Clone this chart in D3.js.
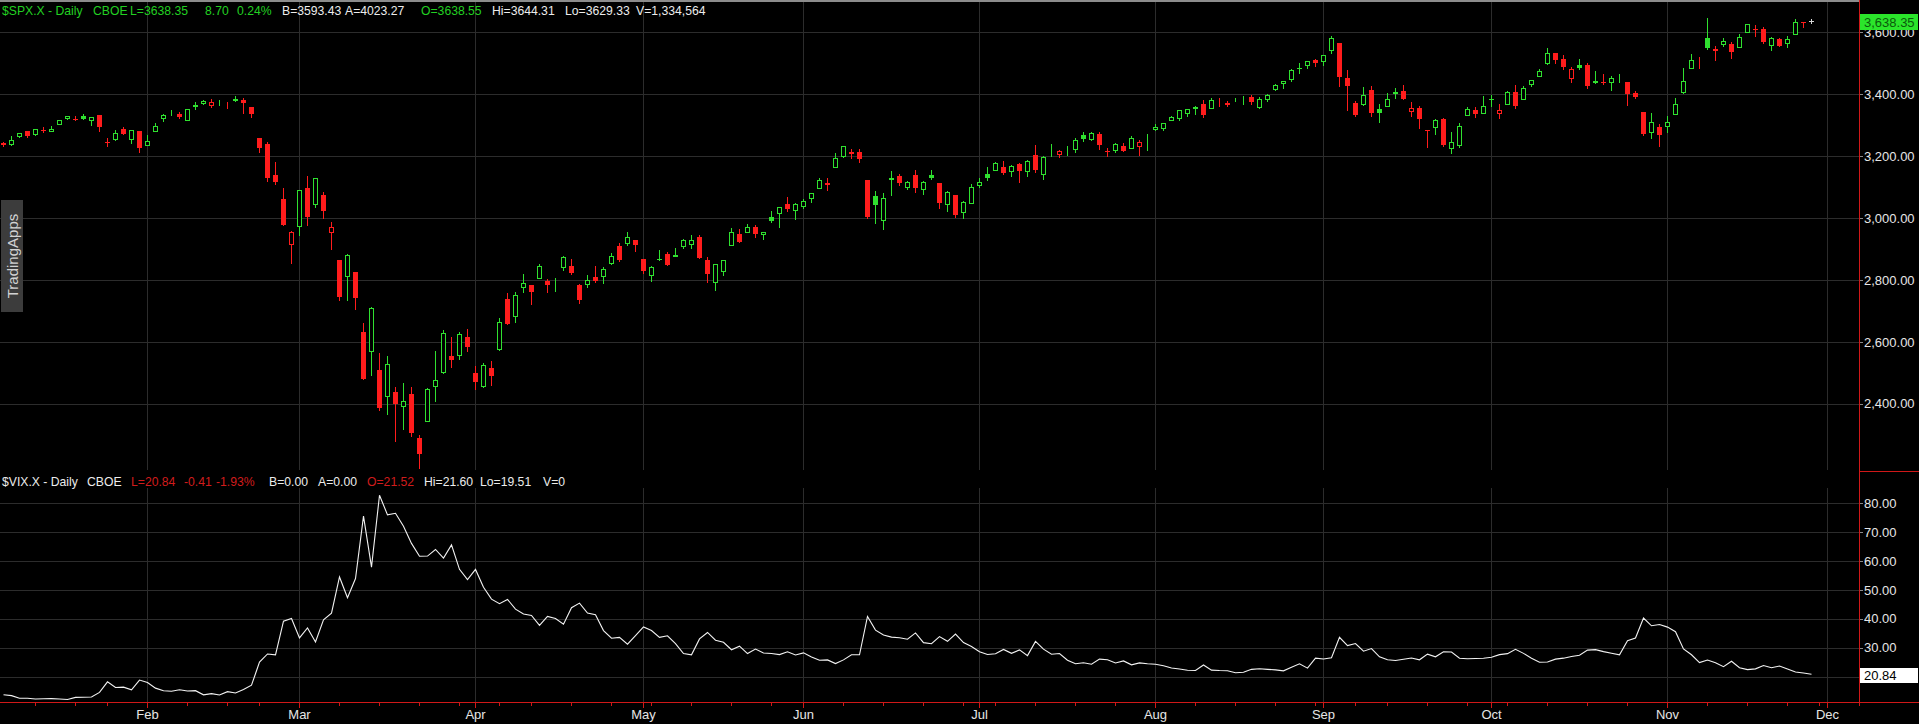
<!DOCTYPE html>
<html>
<head>
  <script src="https://d3js.org/d3.v7.min.js"></script>
  <style>
    html, body {
      margin: 0px;
      padding: 0px;
      background: #000;
      overflow: hidden;
    }

    svg {
      display: block;
      font-family: "Liberation Sans", Arial, Helvetica, sans-serif;
    }

    .grid line {
      stroke: #2c2c2c;
      stroke-width: 1;
      shape-rendering: crispEdges;
    }

    .axis text {
      fill: #e6e6e6;
      font-size: 13px;
    }

    .axis line {
      stroke: #8a8a8a;
      shape-rendering: crispEdges;
    }

    .xaxis line {
      stroke: #d01818;
      shape-rendering: crispEdges;
    }

    .xaxis text {
      fill: #e6e6e6;
      font-size: 13px;
    }

    .header {
      font-size: 12.2px;
    }
  </style>
</head>
<body>
  <div id="chart"></div>
  <script>

      /*
      DATA: S&P 500 daily candles and VIX daily closes, 7 Jan 2020 - 27 Nov 2020
      */
      const holidays2020 = ["2020-01-20", "2020-02-17", "2020-04-10", "2020-05-25", "2020-07-03", "2020-09-07", "2020-11-26"];

      const prevClose0 = 3246.28;

      const spxOpen = [
        3241.86, 3238.59, 3266.03, 3281.07, 3271.13, 3285.35, 3282.27, 3302.97, 3323.66, 3321.03, 3330.02, 3315.77, 3333.10, 3247.16, 3255.35, 3289.46, 3256.45, 3282.33,
        3235.66, 3280.61, 3324.91, 3344.92, 3335.54, 3318.28, 3365.87, 3370.50, 3365.90, 3378.08, 3369.04, 3380.39, 3380.45, 3360.50, 3257.61, 3238.94, 3139.90, 3062.54, 2916.90,
        2974.28, 3096.46, 3045.75, 3075.70, 2954.20, 2863.89, 2813.48, 2825.60, 2630.86, 2569.99, 2508.59, 2425.66, 2436.50, 2393.48, 2431.94, 2290.71, 2344.44, 2457.77, 2501.29, 2555.87, 2558.98, 2614.69,
        2498.08, 2458.17, 2514.92, 2578.28, 2738.65, 2685.00, 2776.99, 2782.46, 2805.10, 2795.64, 2799.34, 2842.43, 2845.62, 2784.81, 2787.89, 2810.42, 2812.64, 2854.65, 2909.96, 2918.46, 2930.91,
        2869.09, 2815.01, 2868.88, 2883.14, 2878.26, 2908.83, 2915.46, 2939.50, 2865.86, 2794.54, 2829.95, 2913.86, 2948.59, 2953.63, 2969.95, 2948.05, 3004.08, 3015.65, 3046.61, 3025.17,
        3038.78, 3064.78, 3098.90, 3111.56, 3163.84, 3199.92, 3213.32, 3213.42, 3123.53, 3071.04, 2993.76, 3131.00, 3136.13, 3101.64, 3140.29, 3094.42, 3138.70, 3114.40, 3046.60, 3073.20, 3018.59, 3050.20,
        3105.92, 3143.64, 3155.29, 3166.44, 3153.07, 3176.17, 3152.47, 3205.08, 3141.11, 3225.98, 3208.36, 3224.21, 3224.29, 3268.52, 3254.86, 3271.64, 3218.58, 3219.84, 3234.27, 3227.22, 3231.76, 3270.45,
        3288.26, 3289.92, 3317.37, 3323.17, 3340.05, 3356.04, 3370.34, 3355.46, 3372.95, 3368.66, 3380.86, 3387.04, 3392.51, 3360.48, 3386.01, 3418.09, 3435.95, 3449.97, 3485.14, 3494.69, 3509.73,
        3507.44, 3543.76, 3564.74, 3453.60, 3371.88, 3369.82, 3412.56, 3352.70, 3363.56, 3407.73, 3411.23, 3346.86, 3357.38, 3285.57, 3295.75, 3320.11, 3226.14, 3236.66, 3333.90, 3350.92, 3341.21,
        3385.87, 3338.94, 3367.27, 3408.74, 3384.56, 3434.28, 3459.67, 3500.02, 3534.01, 3515.47, 3453.72, 3493.50, 3493.66, 3439.38, 3439.91, 3438.50, 3464.90, 3441.42, 3403.15, 3342.48, 3277.17, 3293.59,
        3296.20, 3336.25, 3406.46, 3485.74, 3508.34, 3583.04, 3543.26, 3563.22, 3562.67, 3552.57, 3600.16, 3610.31, 3612.09, 3559.41, 3579.31, 3566.82, 3594.52, 3635.50, 3638.55
      ];

      const spxHigh = [
        3244.91, 3267.07, 3275.58, 3282.99, 3288.13, 3294.25, 3298.66, 3317.11, 3329.88, 3329.79, 3337.77, 3326.88, 3333.18, 3258.85, 3285.78, 3293.47, 3285.91, 3282.33,
        3268.44, 3306.92, 3337.58, 3347.96, 3341.42, 3352.26, 3375.63, 3381.47, 3385.09, 3380.69, 3375.01, 3393.52, 3389.15, 3360.76, 3259.81, 3246.99, 3182.51, 3097.07, 2959.72,
        3090.96, 3136.72, 3130.97, 3083.04, 2985.93, 2863.89, 2882.59, 2825.60, 2660.95, 2711.33, 2562.98, 2553.93, 2453.57, 2466.97, 2453.01, 2300.73, 2449.71, 2571.42, 2637.01, 2615.91, 2631.80, 2641.39,
        2522.75, 2533.22, 2538.18, 2676.85, 2756.89, 2760.75, 2818.57, 2782.46, 2851.85, 2801.88, 2806.51, 2879.22, 2868.98, 2785.54, 2815.10, 2844.24, 2842.71, 2887.72, 2921.15, 2954.86, 2930.91,
        2869.09, 2844.24, 2898.23, 2891.11, 2901.92, 2932.16, 2944.25, 2945.82, 2874.14, 2852.80, 2865.01, 2968.09, 2964.21, 2980.29, 2978.50, 2956.76, 3021.72, 3036.25, 3068.67, 3049.17,
        3062.18, 3081.07, 3130.94, 3128.91, 3211.72, 3233.13, 3222.71, 3223.27, 3123.53, 3088.42, 3079.76, 3153.45, 3141.16, 3120.00, 3155.53, 3120.92, 3154.90, 3115.01, 3086.25, 3073.73, 3053.89, 3111.51,
        3128.44, 3165.81, 3182.59, 3184.15, 3171.80, 3179.78, 3186.82, 3235.32, 3200.95, 3238.28, 3220.39, 3233.52, 3258.61, 3277.29, 3279.32, 3279.99, 3227.26, 3241.43, 3243.72, 3264.74, 3250.92, 3272.17,
        3302.73, 3306.84, 3330.77, 3351.03, 3352.54, 3363.29, 3381.01, 3387.89, 3387.24, 3378.51, 3387.59, 3395.06, 3399.54, 3390.80, 3399.96, 3432.09, 3444.21, 3481.07, 3501.38, 3509.23, 3514.77,
        3528.03, 3588.11, 3564.85, 3479.15, 3379.97, 3424.77, 3425.55, 3368.95, 3402.93, 3419.48, 3428.92, 3375.17, 3362.27, 3285.57, 3320.31, 3323.35, 3278.70, 3306.88, 3360.74, 3357.92, 3393.56,
        3397.18, 3369.10, 3409.57, 3431.56, 3426.26, 3447.28, 3482.34, 3549.85, 3534.01, 3527.94, 3489.08, 3515.76, 3502.42, 3476.93, 3464.86, 3460.53, 3466.46, 3441.42, 3409.51, 3342.48, 3341.05, 3304.93,
        3330.14, 3389.49, 3486.25, 3529.05, 3521.58, 3645.99, 3557.22, 3581.16, 3569.02, 3593.66, 3628.51, 3623.11, 3619.09, 3585.22, 3581.23, 3589.81, 3642.31, 3635.50, 3644.31
      ];

      const spxLow = [
        3232.43, 3236.67, 3263.67, 3260.86, 3268.43, 3277.19, 3280.69, 3302.82, 3318.86, 3316.61, 3320.04, 3301.87, 3281.53, 3234.50, 3253.22, 3271.89, 3242.80, 3214.68,
        3235.66, 3280.61, 3313.75, 3334.39, 3322.12, 3317.77, 3352.72, 3369.72, 3360.52, 3366.15, 3355.61, 3378.83, 3341.02, 3328.45, 3214.65, 3118.77, 3108.99, 2977.39, 2855.84,
        2945.19, 2976.63, 3034.38, 2999.83, 2901.54, 2734.43, 2734.00, 2707.22, 2478.86, 2492.37, 2380.94, 2367.04, 2280.52, 2319.78, 2295.56, 2191.86, 2344.44, 2407.53, 2500.72, 2520.02, 2545.28, 2571.15,
        2447.49, 2455.79, 2459.96, 2574.57, 2657.67, 2663.30, 2762.36, 2721.17, 2805.10, 2761.54, 2764.32, 2830.88, 2820.43, 2727.10, 2775.95, 2794.26, 2791.76, 2852.89, 2860.71, 2912.16, 2892.47,
        2821.61, 2797.85, 2863.55, 2847.65, 2876.48, 2902.88, 2903.44, 2869.59, 2793.15, 2766.64, 2816.78, 2913.86, 2922.35, 2953.63, 2938.57, 2933.59, 2988.17, 2969.75, 3023.40, 2998.61,
        3031.54, 3051.64, 3098.90, 3090.41, 3163.84, 3196.00, 3193.11, 3181.49, 2999.49, 2984.47, 2965.66, 3076.06, 3108.03, 3093.51, 3083.11, 3079.39, 3127.12, 3032.13, 3024.01, 3004.63, 2999.74, 3047.83,
        3101.17, 3124.52, 3155.29, 3142.93, 3136.53, 3115.70, 3136.22, 3149.43, 3127.66, 3200.76, 3198.59, 3205.65, 3215.16, 3247.77, 3253.10, 3222.66, 3200.05, 3214.25, 3216.17, 3227.22, 3204.13, 3220.26,
        3284.53, 3286.37, 3317.37, 3318.14, 3328.72, 3335.44, 3326.44, 3355.46, 3363.35, 3361.64, 3379.22, 3370.15, 3369.66, 3354.69, 3379.31, 3413.13, 3421.74, 3444.15, 3468.35, 3484.32, 3493.25,
        3494.60, 3535.23, 3427.41, 3349.63, 3329.27, 3366.84, 3329.25, 3310.47, 3363.56, 3389.25, 3384.45, 3328.82, 3292.40, 3229.10, 3270.95, 3232.57, 3209.45, 3228.44, 3332.91, 3327.54, 3340.47,
        3361.39, 3323.69, 3367.27, 3354.54, 3384.56, 3428.15, 3458.07, 3499.61, 3500.86, 3480.55, 3440.89, 3480.45, 3419.93, 3435.65, 3433.06, 3415.34, 3440.45, 3364.86, 3388.71, 3268.89, 3259.82, 3233.94,
        3279.74, 3336.25, 3405.17, 3485.74, 3484.34, 3547.48, 3511.91, 3557.00, 3518.58, 3552.57, 3600.16, 3588.68, 3567.33, 3543.84, 3556.85, 3552.77, 3594.52, 3617.76, 3629.33
      ];

      const spxClose = [
        3237.18, 3253.05, 3274.70, 3265.35, 3288.13, 3283.15, 3289.29, 3316.81, 3329.62, 3320.79, 3321.75, 3325.54, 3295.47, 3243.63, 3276.24, 3273.40, 3283.66, 3225.52,
        3248.92, 3297.59, 3334.69, 3345.78, 3327.71, 3352.09, 3357.75, 3379.45, 3373.94, 3380.16, 3370.29, 3386.15, 3373.23, 3337.75, 3225.89, 3128.21, 3116.39, 2978.76, 2954.22,
        3090.23, 3003.37, 3130.12, 3023.94, 2972.37, 2746.56, 2882.23, 2741.38, 2480.64, 2711.02, 2386.13, 2529.19, 2398.10, 2409.39, 2304.92, 2237.40, 2447.33, 2475.56, 2630.07, 2541.47, 2626.65, 2584.59,
        2470.50, 2526.90, 2488.65, 2663.68, 2659.41, 2749.98, 2789.82, 2761.63, 2846.06, 2783.36, 2799.55, 2874.56, 2823.16, 2736.56, 2799.31, 2797.80, 2836.74, 2878.48, 2863.39, 2939.51, 2912.43,
        2830.71, 2842.74, 2868.44, 2848.42, 2881.19, 2929.80, 2930.32, 2870.12, 2820.00, 2852.50, 2863.70, 2953.91, 2922.94, 2971.61, 2948.51, 2955.45, 2991.77, 3036.13, 3029.73, 3044.31,
        3055.73, 3080.82, 3122.87, 3112.35, 3193.93, 3232.39, 3207.18, 3190.14, 3002.10, 3041.31, 3066.59, 3124.74, 3113.49, 3115.34, 3097.74, 3117.86, 3131.29, 3050.33, 3083.76, 3009.05, 3053.24, 3100.29,
        3115.86, 3130.01, 3179.72, 3145.32, 3169.94, 3152.05, 3185.04, 3155.22, 3197.52, 3226.56, 3215.57, 3224.73, 3251.84, 3257.30, 3276.02, 3235.66, 3215.63, 3239.41, 3218.44, 3258.44, 3246.22, 3271.12,
        3294.61, 3306.51, 3327.77, 3349.16, 3351.28, 3360.47, 3333.69, 3380.35, 3373.43, 3372.85, 3381.99, 3389.78, 3374.85, 3385.51, 3397.16, 3431.28, 3443.62, 3478.73, 3484.55, 3508.01, 3500.31,
        3526.65, 3580.84, 3455.06, 3426.96, 3331.84, 3398.96, 3339.19, 3340.97, 3383.54, 3401.20, 3385.49, 3357.01, 3319.47, 3281.06, 3315.57, 3236.92, 3246.59, 3298.46, 3351.60, 3335.47, 3363.00,
        3380.80, 3348.42, 3408.60, 3360.97, 3419.44, 3446.83, 3477.14, 3534.22, 3511.93, 3488.67, 3483.34, 3483.81, 3426.92, 3443.12, 3435.56, 3453.49, 3465.39, 3400.97, 3390.68, 3271.03, 3310.11, 3269.96,
        3310.24, 3369.16, 3443.44, 3510.45, 3509.44, 3550.50, 3545.53, 3572.66, 3537.01, 3585.15, 3626.91, 3609.53, 3567.79, 3581.87, 3557.54, 3577.59, 3635.41, 3629.65, 3638.35
      ];

      const vixClose = [
        13.79, 13.45, 12.54, 12.56, 12.32, 12.39, 12.42, 12.32, 12.10, 12.85, 12.91, 12.98, 14.56, 18.23, 16.28, 16.39, 15.49, 18.84,
        17.97, 16.05, 15.15, 14.96, 15.47, 15.04, 15.18, 13.74, 14.15, 13.68, 14.83, 14.38, 15.56, 17.08, 25.03, 27.85, 27.56, 39.16, 40.11,
        33.42, 36.82, 31.99, 39.62, 41.94, 54.46, 47.30, 53.90, 75.47, 57.83, 82.69, 75.91, 76.45, 72.00, 66.04, 61.59, 61.67, 63.95, 61.00, 65.54, 57.08, 53.54,
        57.06, 50.91, 46.80, 45.24, 46.70, 43.35, 41.67, 41.17, 37.76, 40.84, 40.11, 38.15, 43.83, 45.41, 41.98, 41.38, 35.93, 33.29, 33.57, 31.23, 34.15,
        37.19, 35.97, 33.61, 34.12, 31.44, 27.98, 27.57, 33.04, 35.28, 32.61, 31.89, 29.30, 30.53, 27.99, 29.53, 28.16, 28.01, 27.62, 28.59, 27.51,
        28.23, 26.84, 25.66, 25.81, 24.52, 25.81, 27.57, 27.57, 40.79, 36.09, 34.40, 33.67, 33.47, 32.94, 35.12, 31.77, 31.37, 33.84, 32.22, 34.73, 31.78, 30.43,
        28.62, 27.68, 27.94, 29.43, 28.08, 29.26, 27.29, 32.19, 29.52, 27.76, 28.00, 25.68, 24.46, 24.84, 24.32, 26.08, 25.84, 24.74, 25.44, 24.10, 24.76, 24.46,
        24.28, 23.76, 22.99, 22.65, 22.21, 22.14, 24.03, 22.28, 22.13, 22.05, 21.35, 21.51, 22.54, 22.72, 22.54, 22.37, 22.03, 23.27, 24.47, 22.96, 26.41,
        26.12, 26.57, 33.60, 30.75, 31.46, 28.81, 29.71, 26.87, 25.85, 25.59, 26.04, 26.46, 25.83, 27.78, 26.86, 28.58, 28.51, 26.38, 26.19, 26.27, 26.37,
        26.70, 27.63, 27.96, 29.48, 28.06, 26.36, 25.00, 25.07, 26.07, 26.40, 26.97, 27.41, 29.18, 29.35, 28.65, 28.11, 27.55, 32.46, 33.35, 40.28, 37.59, 38.02,
        37.13, 35.55, 29.57, 27.58, 24.86, 25.75, 24.80, 23.45, 25.35, 23.10, 22.45, 22.71, 23.84, 23.11, 23.70, 22.66, 21.64, 21.25, 20.84
      ];

      const priceTicks = [2400, 2600, 2800, 3000, 3200, 3400, 3600];
      const vixTicks = [20, 30, 40, 50, 60, 70, 80];

      const spxHeader = [
        ["$SPX.X - Daily", 2, "up"], ["CBOE", 93, "up"], ["L=3638.35", 130, "up"], ["8.70", 205, "up"], ["0.24%", 237, "up"],
        ["B=3593.43", 282, "plain"], ["A=4023.27", 345, "plain"], ["O=3638.55", 421, "up"],
        ["Hi=3644.31", 492, "plain"], ["Lo=3629.33", 565, "plain"], ["V=1,334,564", 636, "plain"]
      ];

      const vixHeader = [
        ["$VIX.X - Daily", 2, "plain"], ["CBOE", 87, "plain"], ["L=20.84", 131, "down"], ["-0.41", 184, "down"], ["-1.93%", 216, "down"],
        ["B=0.00", 269, "plain"], ["A=0.00", 318, "plain"], ["O=21.52", 367, "down"],
        ["Hi=21.60", 424, "plain"], ["Lo=19.51", 480, "plain"], ["V=0", 543, "plain"]
      ];

      /*
      COLOURS AND LAYOUT
      */
      const upColor = "#2fe02f";
      const downColor = "#ff1c1c";
      const headerUp = "#22d022";
      const headerDown = "#d01c1c";
      const plainText = "#ececec";
      const axisRed = "#d01818";

      const width = 1919;
      const height = 724;
      const plotRight = 1859;
      const price = {top: 0, bottom: 470};
      const vix = {top: 488, bottom: 702};

      const svg = d3.select("#chart")
        .append("svg")
        .attr("width", width)
        .attr("height", height);

      svg.append("rect")
        .attr("width", width)
        .attr("height", height)
        .attr("fill", "#000");

      /*
      TRADING DAYS (x categories)
      */
      const fmtDay = d3.utcFormat("%Y-%m-%d");
      const fmtMonth = d3.utcFormat("%b");
      const tradingDays = d3.utcDays(new Date(Date.UTC(2020, 0, 7)), new Date(Date.UTC(2020, 11, 8)))
        .filter(d => d.getUTCDay() !== 0 && d.getUTCDay() !== 6 && !holidays2020.includes(fmtDay(d)));
      const dayKeys = tradingDays.map(fmtDay);

      const weekStarts = dayKeys.filter((k, i) => i > 0 &&
        +d3.utcMonday.floor(tradingDays[i]) !== +d3.utcMonday.floor(tradingDays[i - 1]));
      const monthStarts = dayKeys.filter((k, i) => i > 0 &&
        tradingDays[i].getUTCMonth() !== tradingDays[i - 1].getUTCMonth());

      const bars = spxClose.map((c, i) => ({
        key: dayKeys[i],
        open: spxOpen[i],
        high: spxHigh[i],
        low: spxLow[i],
        close: c,
        prev: i === 0 ? prevClose0 : spxClose[i - 1],
        last: i === spxClose.length - 1
      }));

      const vixPoints = vixClose.map((v, i) => ({key: dayKeys[i], value: v}));

      /*
      SCALES
      */
      const xScale = d3.scalePoint()
        .domain(dayKeys)
        .range([3, plotRight]);

      const yPrice = d3.scaleLinear()
        .domain([2186, 3705])
        .range([price.bottom, price.top]);

      const yVix = d3.scaleLinear()
        .domain([11.26, 85.18])
        .range([vix.bottom, vix.top]);

      const px = k => Math.round(xScale(k));

      /*
      GRID
      */
      const grid = svg.append("g").attr("class", "grid");

      grid.selectAll(".hp")
        .data(priceTicks)
        .join("line")
          .attr("x1", 0)
          .attr("x2", plotRight)
          .attr("y1", d => Math.round(yPrice(d)) + 0.5)
          .attr("y2", d => Math.round(yPrice(d)) + 0.5);

      grid.selectAll(".hv")
        .data(vixTicks)
        .join("line")
          .attr("x1", 0)
          .attr("x2", plotRight)
          .attr("y1", d => Math.round(yVix(d)) + 0.5)
          .attr("y2", d => Math.round(yVix(d)) + 0.5);

      grid.selectAll(".vp")
        .data(monthStarts)
        .join("line")
          .attr("x1", d => px(d) + 0.5)
          .attr("x2", d => px(d) + 0.5)
          .attr("y1", price.top)
          .attr("y2", price.bottom);

      grid.selectAll(".vv")
        .data(monthStarts)
        .join("line")
          .attr("x1", d => px(d) + 0.5)
          .attr("x2", d => px(d) + 0.5)
          .attr("y1", vix.top)
          .attr("y2", vix.bottom);

      // top border
      svg.append("rect")
        .attr("x", 0).attr("y", 0)
        .attr("width", plotRight).attr("height", 2)
        .attr("fill", "#8c8c8c");

      /*
      WATERMARK
      */
      svg.append("rect")
        .attr("x", 1).attr("y", 200)
        .attr("width", 22).attr("height", 112)
        .attr("fill", "#3c3c3c");

      svg.append("text")
        .attr("transform", "translate(12.5,256) rotate(-90)")
        .attr("text-anchor", "middle")
        .attr("dominant-baseline", "central")
        .attr("fill", "#d2d2d2")
        .attr("font-size", "15px")
        .text("TradingApps");

      /*
      CANDLES
      */
      svg.append("clipPath").attr("id", "priceClip")
        .append("rect")
          .attr("x", 0).attr("y", price.top)
          .attr("width", plotRight).attr("height", price.bottom - price.top);

      const candleColor = d => d.last ? "#d6d6d6" : (d.close >= d.prev ? upColor : downColor);

      const candle = svg.append("g")
        .attr("clip-path", "url(#priceClip)")
        .attr("shape-rendering", "crispEdges")
        .selectAll("g")
        .data(bars)
        .join("g");

      candle.append("line")
        .attr("x1", d => px(d.key) + 0.5)
        .attr("x2", d => px(d.key) + 0.5)
        .attr("y1", d => Math.round(yPrice(d.high)))
        .attr("y2", d => Math.round(yPrice(d.low)) + 1)
        .attr("stroke", candleColor);

      candle.append("rect")
        .attr("x", d => d.close >= d.open ? px(d.key) - 1.5 : px(d.key) - 2)
        .attr("width", d => d.close >= d.open ? 4 : 5)
        .attr("y", d => {
          const top = Math.round(yPrice(Math.max(d.open, d.close)));
          return d.close >= d.open ? top + 0.5 : top;
        })
        .attr("height", d => {
          const h = Math.round(yPrice(Math.min(d.open, d.close))) - Math.round(yPrice(Math.max(d.open, d.close)));
          return d.close >= d.open ? Math.max(0, h) : Math.max(1, h);
        })
        .attr("fill", d => d.close >= d.open ? "#000" : candleColor(d))
        .attr("stroke", d => d.close >= d.open ? candleColor(d) : "none");

      /*
      VIX LINE
      */
      const vixLine = d3.line()
        .x(d => px(d.key) + 0.5)
        .y(d => yVix(d.value));

      svg.append("path")
        .datum(vixPoints)
        .attr("d", vixLine)
        .attr("fill", "none")
        .attr("stroke", "#f2f2f2")
        .attr("stroke-width", 1.1);

      /*
      HEADERS
      */
      const headerColor = k => k === "up" ? headerUp : (k === "down" ? headerDown : plainText);

      svg.append("g").attr("class", "header")
        .selectAll("text")
        .data(spxHeader)
        .join("text")
          .attr("x", d => d[1])
          .attr("y", 15)
          .attr("fill", d => headerColor(d[2]))
          .text(d => d[0]);

      svg.append("g").attr("class", "header")
        .selectAll("text")
        .data(vixHeader)
        .join("text")
          .attr("x", d => d[1])
          .attr("y", 486)
          .attr("fill", d => headerColor(d[2]))
          .text(d => d[0]);

      /*
      RIGHT AXES
      */
      svg.append("g")
        .attr("class", "axis")
        .attr("transform", `translate(${plotRight},0)`)
        .call(d3.axisRight(yPrice).tickValues(priceTicks).tickSize(4).tickPadding(1)
          .tickFormat(d3.format(",.2f")))
        .call(g => g.select(".domain").remove());

      svg.append("g")
        .attr("class", "axis")
        .attr("transform", `translate(${plotRight},0)`)
        .call(d3.axisRight(yVix).tickValues(vixTicks).tickSize(4).tickPadding(1)
          .tickFormat(d3.format(".2f")))
        .call(g => g.select(".domain").remove());

      // last value boxes
      const lastClose = spxClose[spxClose.length - 1];
      const lastVix = vixClose[vixClose.length - 1];

      svg.append("rect")
        .attr("x", plotRight + 1).attr("y", Math.round(yPrice(lastClose)) - 7)
        .attr("width", 58).attr("height", 16)
        .attr("fill", "#2be52b");
      svg.append("text")
        .attr("x", plotRight + 5).attr("y", Math.round(yPrice(lastClose)) + 1)
        .attr("dominant-baseline", "central")
        .attr("font-size", "13px")
        .attr("fill", "#0b5a0b")
        .text(d3.format(",.2f")(lastClose));

      svg.append("rect")
        .attr("x", plotRight + 1).attr("y", Math.round(yVix(lastVix)) - 6)
        .attr("width", 58).attr("height", 15)
        .attr("fill", "#ffffff");
      svg.append("text")
        .attr("x", plotRight + 5).attr("y", Math.round(yVix(lastVix)) + 1.5)
        .attr("dominant-baseline", "central")
        .attr("font-size", "13px")
        .attr("fill", "#000")
        .text(d3.format(".2f")(lastVix));

      /*
      FRAME LINES AND TIME AXIS
      */
      svg.append("line")
        .attr("x1", plotRight + 0.5).attr("x2", plotRight + 0.5)
        .attr("y1", 0).attr("y2", vix.bottom)
        .attr("stroke", axisRed);

      svg.append("line")
        .attr("x1", plotRight).attr("x2", width)
        .attr("y1", price.bottom + 1.5).attr("y2", price.bottom + 1.5)
        .attr("stroke", axisRed);

      svg.append("line")
        .attr("x1", 0).attr("x2", width)
        .attr("y1", vix.bottom + 0.5).attr("y2", vix.bottom + 0.5)
        .attr("stroke", axisRed);

      svg.append("g")
        .attr("class", "xaxis")
        .attr("transform", `translate(0,${vix.bottom})`)
        .call(d3.axisBottom(xScale).tickValues(weekStarts).tickSize(4).tickFormat(""))
        .call(g => g.select(".domain").remove());

      svg.append("g")
        .attr("class", "xaxis")
        .attr("transform", `translate(0,${vix.bottom})`)
        .call(d3.axisBottom(xScale).tickValues(monthStarts).tickSize(6).tickPadding(2)
          .tickFormat(k => fmtMonth(d3.utcParse("%Y-%m-%d")(k))))
        .call(g => g.select(".domain").remove());

  </script>
</body>
</html>
